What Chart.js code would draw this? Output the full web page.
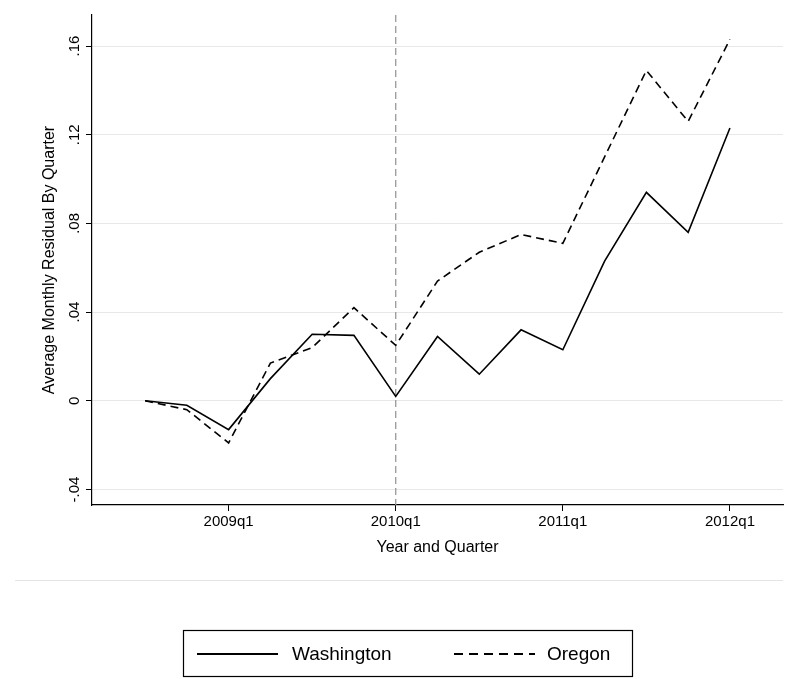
<!DOCTYPE html>
<html><head><meta charset="utf-8">
<script src="https://cdn.jsdelivr.net/npm/chart.js@4/dist/chart.umd.min.js"></script>
<style>html,body{margin:0;padding:0;background:#fff}#w{width:791px;height:679px}</style>
</head><body><div id="w"><canvas id="c"></canvas></div>
<script>
const quarters = ["2008q3","2008q4","2009q1","2009q2","2009q3","2009q4","2010q1","2010q2","2010q3","2010q4","2011q1","2011q2","2011q3","2011q4","2012q1"];
const washington = [0,-0.002,-0.013,0.010,0.030,0.0295,0.002,0.029,0.012,0.032,0.023,0.063,0.094,0.076,0.123];
const oregon = [0,-0.004,-0.019,0.017,0.024,0.042,0.025,0.054,0.067,0.075,0.071,0.110,0.149,0.126,0.163];
const xTickLabels = {2:"2009q1",6:"2010q1",10:"2011q1",14:"2012q1"};
const yTicks = [-0.04,0,0.04,0.08,0.12,0.16];
const yTickLabels = ["-.04","0",".04",".08",".12",".16"];
const eventIndex = 6;
const FONT = "'Liberation Sans', Arial, sans-serif";

const deco = {
  id:'deco',
  beforeDatasetsDraw(ch){
    const c=ch.ctx, a=ch.chartArea, x=ch.scales.x;
    const px=x.getPixelForValue(eventIndex);
    c.save(); c.strokeStyle='#999'; c.lineWidth=1.3; c.setLineDash([7,4]);
    c.beginPath(); c.moveTo(px,a.top); c.lineTo(px,a.bottom); c.stroke(); c.restore();
  },
  afterDraw(ch){
    const c=ch.ctx, a=ch.chartArea, y=ch.scales.y;
    c.save(); c.fillStyle='#000'; c.font='15px '+FONT;
    yTicks.forEach((v,i)=>{
      const py=y.getPixelForValue(v);
      c.save(); c.translate(82,py); c.rotate(-Math.PI/2);
      c.textAlign='center'; c.textBaseline='bottom'; c.fillText(yTickLabels[i],0,0); c.restore();
    });
    c.save(); c.translate(50,(a.top+a.bottom)/2); c.rotate(-Math.PI/2);
    c.textAlign='center'; c.textBaseline='middle'; c.font='16px '+FONT;
    c.fillText('Average Monthly Residual By Quarter',0,0); c.restore();
    c.textAlign='center'; c.textBaseline='middle'; c.font='16px '+FONT;
    c.fillText('Year and Quarter',(a.left+a.right)/2,548);
    c.strokeStyle='#e4e4e4'; c.lineWidth=1;
    c.beginPath(); c.moveTo(15,580.5); c.lineTo(783,580.5); c.stroke();
    c.strokeStyle='#000'; c.lineWidth=1.2;
    c.strokeRect(183.5,630.5,449,46);
    c.lineWidth=1.8;
    c.beginPath(); c.moveTo(197,654); c.lineTo(278,654); c.stroke();
    c.setLineDash([9,6]); c.beginPath(); c.moveTo(454,654); c.lineTo(535,654); c.stroke(); c.setLineDash([]);
    c.font='19px '+FONT; c.textAlign='left';
    c.fillText('Washington',292,655); c.fillText('Oregon',547,655);
    c.restore();
  }
};

new Chart(document.getElementById('c'),{
  type:'line',
  data:{datasets:[
    {label:'Washington',data:washington.map((v,i)=>({x:i,y:v})),borderColor:'#000',borderWidth:1.6,pointRadius:0,tension:0},
    {label:'Oregon',data:oregon.map((v,i)=>({x:i,y:v})),borderColor:'#000',borderWidth:1.6,borderDash:[8,5],pointRadius:0,tension:0}
  ]},
  options:{
    responsive:true,maintainAspectRatio:false,animation:false,
    layout:{padding:{top:15,right:8,left:0,bottom:0}},
    plugins:{legend:{display:false},tooltip:{enabled:false}},
    scales:{
      x:{type:'linear',min:-1.27,max:15.27,
        afterBuildTicks(s){s.ticks=Object.keys(xTickLabels).map(k=>({value:+k}));},
        afterFit(s){s.height=174;},
        ticks:{callback:v=>xTickLabels[v]||'',color:'#000',font:{size:15,family:FONT},maxRotation:0,padding:2},
        grid:{drawOnChartArea:false,tickLength:6,tickColor:'#000'},
        border:{color:'#000',width:1.2}},
      y:{min:-0.047,max:0.174,
        afterBuildTicks(s){s.ticks=yTicks.map(v=>({value:v}));},
        afterFit(s){s.width=92;},
        ticks:{display:false},
        grid:{color:'#e8e8e8',tickLength:6,tickColor:'#000'},
        border:{color:'#000',width:1.2}}
    }
  },
  plugins:[deco]
});
</script></body></html>
